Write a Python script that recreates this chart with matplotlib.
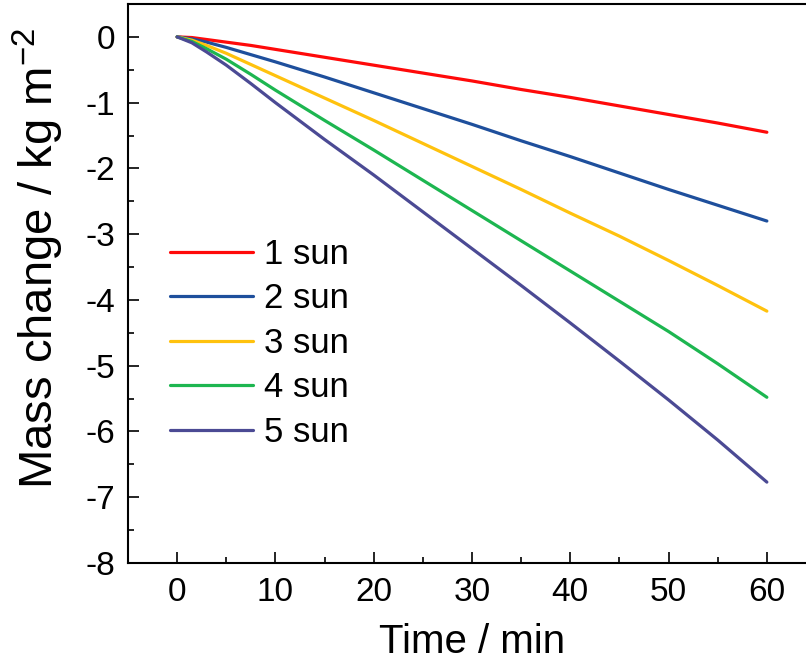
import matplotlib
matplotlib.use("Agg")
import matplotlib.pyplot as plt
from matplotlib.ticker import MultipleLocator

plt.rcParams['font.family'] = ['Liberation Sans', 'DejaVu Sans']
plt.rcParams['mathtext.fontset'] = 'custom'
plt.rcParams['mathtext.rm'] = 'Liberation Sans'
plt.rcParams['mathtext.default'] = 'regular'
plt.rcParams['axes.unicode_minus'] = False

time_min = [0, 1.5, 3, 5, 7.5, 10, 15, 20, 25, 30, 35, 40, 45, 50, 55, 60]
sun1 = [0, -0.01, -0.04, -0.08, -0.13, -0.19, -0.31, -0.43, -0.55, -0.67, -0.80, -0.92, -1.05, -1.18, -1.31, -1.45]
sun2 = [0, -0.03, -0.08, -0.16, -0.27, -0.38, -0.61, -0.85, -1.09, -1.33, -1.58, -1.82, -2.07, -2.32, -2.56, -2.80]
sun3 = [0, -0.05, -0.13, -0.25, -0.42, -0.59, -0.93, -1.27, -1.62, -1.97, -2.32, -2.68, -3.03, -3.40, -3.78, -4.17]
sun4 = [0, -0.07, -0.18, -0.34, -0.57, -0.81, -1.27, -1.72, -2.18, -2.64, -3.10, -3.56, -4.02, -4.48, -4.97, -5.48]
sun5 = [0, -0.09, -0.23, -0.43, -0.71, -1.00, -1.56, -2.10, -2.66, -3.22, -3.78, -4.35, -4.93, -5.52, -6.13, -6.77]
labels = ['1 sun', '2 sun', '3 sun', '4 sun', '5 sun']
colors = ['#FF0A0A', '#1E4F9C', '#FFC20E', '#1DB650', '#4B4A94']

W, H = 806, 668
fig = plt.figure(figsize=(W / 100, H / 100), dpi=100)
ax = fig.add_axes([128 / W, (H - 563) / H, 688 / W, 559 / H])

for series, lab, col in zip([sun1, sun2, sun3, sun4, sun5], labels, colors):
    ax.plot(time_min, series, color=col, lw=2.3, label=lab,
            solid_capstyle='round', solid_joinstyle='round')

ax.set_xlim(-5, 65)
ax.set_ylim(-8, 0.5)
ax.set_xticks([0, 10, 20, 30, 40, 50, 60])
ax.xaxis.set_minor_locator(MultipleLocator(5))
ax.yaxis.set_major_locator(MultipleLocator(1))
ax.yaxis.set_minor_locator(MultipleLocator(0.5))

ax.tick_params(which='major', direction='in', length=8, width=1.2, labelsize=24)
ax.tick_params(axis='x', which='major', pad=10)
ax.tick_params(axis='y', which='major', pad=9)
ax.tick_params(which='minor', direction='in', length=4, width=1.2)
for s in ax.spines.values():
    s.set_linewidth(1.5)

ax.set_xlabel('Time / min', fontsize=29, labelpad=11)
ax.set_ylabel('Mass change / kg m$^{-2}$', fontsize=34)
ax.yaxis.set_label_coords(-0.09, 0.545)

ax.legend(loc='upper left', bbox_to_anchor=(170 / W, 1 - 238 / H),
          bbox_transform=fig.transFigure, frameon=False, fontsize=25,
          handlelength=2.4, handletextpad=0.3, labelspacing=0.33,
          borderpad=0, borderaxespad=0)

fig.savefig('out.png', dpi=100)
